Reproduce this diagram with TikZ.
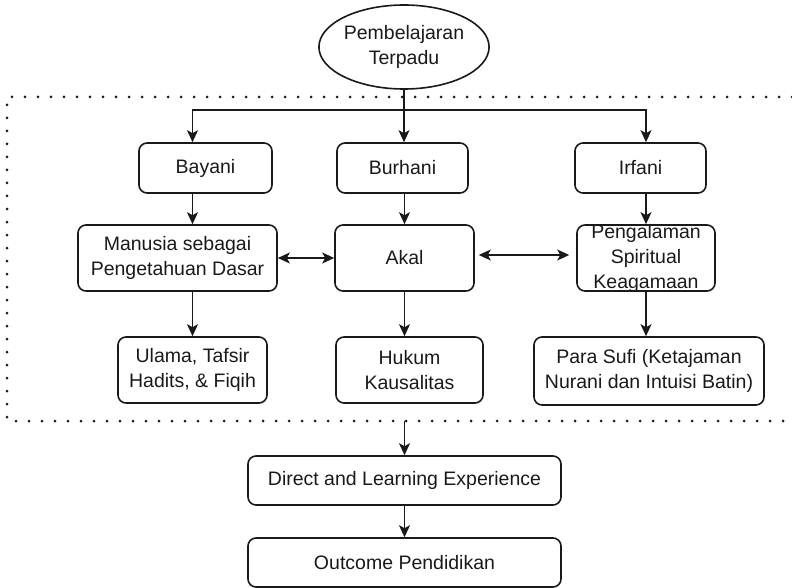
\documentclass[tikz,border=0pt]{standalone}
\usepackage{fontspec}
\setmainfont{Liberation Sans}
\usetikzlibrary{arrows.meta}
\usetikzlibrary{shapes.geometric}
\usetikzlibrary{positioning}
\tikzset{box/.style = {draw, ink, text=ink, rounded corners=8pt, line width=1.6pt,
                       align=center, inner sep=2pt},
         link/.style = {ink, line width=1.6pt, -{Stealth[length=12pt, width=11pt, inset=3pt]}},
         twoway/.style = {ink, line width=1.6pt,
                          {Stealth[length=12pt, width=11pt, inset=3pt]}-{Stealth[length=12pt, width=11pt, inset=3pt]}},
         frame/.style = {ink, line width=3pt, line cap=round, dash pattern=on 0pt off 13pt}}
\definecolor{ink}{rgb}{0.1, 0.1, 0.1}

\begin{document}
\begin{tikzpicture}[x=1pt, y=-1pt, font=\fontsize{19.5}{25}\selectfont]
  \useasboundingbox (0, 0) rectangle (792, 588);

  \node [draw, ink, text=ink, ellipse, line width=1.6pt, minimum width=148pt, minimum height=84pt,
         inner sep=0pt, align=center] (root) at (404, 47) {Pembelajaran\\Terpadu};

  % dotted frame
  \draw [frame] (792, 97) -- (7, 97) -- (7, 421) -- (792, 421);

  \node [box, minimum width=133pt, minimum height=50pt] (bayani) at (205.5, 168) {Bayani};
  \node [box, minimum width=131pt, minimum height=50pt] (burhani) at (402.5, 168) {Burhani};
  \node [box, minimum width=131pt, minimum height=50pt] (irfani) at (640.5, 168) {Irfani};

  \node [box, minimum width=199pt, minimum height=66pt] (manusia) at (177.5, 258) {Manusia sebagai\\Pengetahuan Dasar};
  \node [box, minimum width=139pt, minimum height=66pt] (akal) at (404.5, 258) {Akal};
  \node [box, minimum width=138pt, minimum height=66pt] (pengalaman) at (646, 258) {};
  \node [text=ink, align=center, inner sep=0pt] (pengalamantxt) at (pengalaman) {Pengalaman\\Spiritual\\Keagamaan};

  \node [box, minimum width=149pt, minimum height=66pt] (ulama) at (192.5, 370) {Ulama, Tafsir\\Hadits, \& Fiqih};
  \node [box, minimum width=147pt, minimum height=66pt] (hukum) at (409.5, 370) {Hukum\\Kausalitas};
  \node [box, minimum width=230pt, minimum height=68pt] (sufi) at (649, 371) {Para Sufi (Ketajaman\\Nurani dan Intuisi Batin)};

  \node [box, minimum width=313pt, minimum height=49pt] (direct) at (404.5, 480.5) {Direct and Learning Experience};
  \node [box, minimum width=313pt, minimum height=49pt] (outcome) at (404.5, 562.5) {Outcome Pendidikan};

  \coordinate (split) at (404, 110);
  \coordinate (gate) at (404.5, 421);

  \draw [ink, line width=1.6pt] (root.south) -- (split);
  \draw [link] (split) -| (bayani.north -| ulama);
  \draw [link] (split) -- (burhani.north -| split);
  \draw [link] (split) -| (irfani.north -| pengalaman);

  \draw [link] (bayani.south -| ulama) -- (manusia.north -| ulama);
  \draw [link] (burhani.south -| akal) -- (akal.north);
  \draw [link] (irfani.south -| pengalaman) -- (pengalaman.north);

  \draw [twoway] (manusia.east) -- (akal.west);
  \draw [twoway, shorten <=4pt, shorten >=7pt] (akal.east |- 0, 255) -- (pengalaman.west |- 0, 255);

  \draw [link] (manusia.south -| ulama) -- (ulama.north);
  \draw [link] (akal.south) -- (hukum.north -| akal);
  \draw [link] (pengalaman.south) -- (sufi.north -| pengalaman);

  \draw [link] (gate) -- (direct.north);
  \draw [link] (direct.south) -- (outcome.north);
\end{tikzpicture}
\end{document}
